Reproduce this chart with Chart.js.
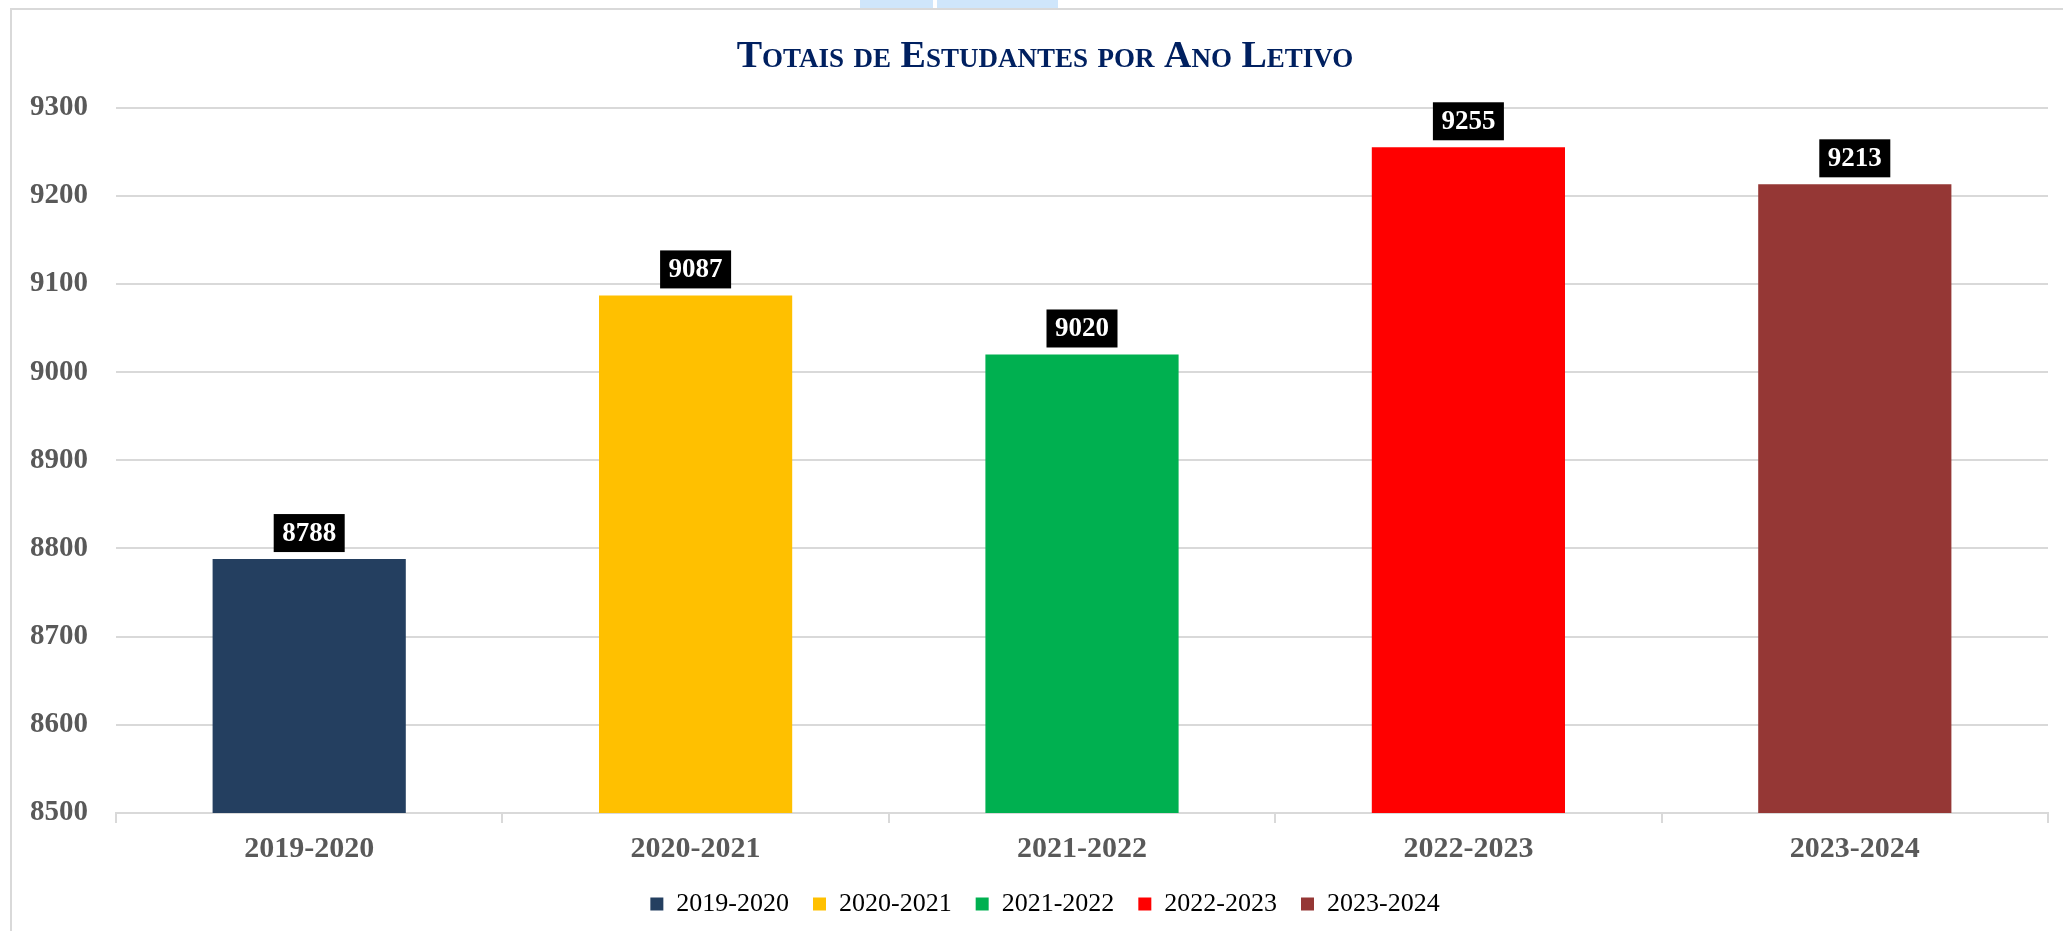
<!DOCTYPE html>
<html>
<head>
<meta charset="utf-8">
<script src="https://cdn.jsdelivr.net/npm/chart.js@4.4.1/dist/chart.umd.min.js"></script>
<style>
  html, body { margin: 0; padding: 0; background: #fff; overflow: hidden; }
  body { width: 2063px; height: 931px; position: relative; }
  #deco { position: absolute; left: 860px; top: 0; width: 198px; height: 8px; background: #cfe6fb; }
  #deco2 { position: absolute; left: 933px; top: 0; width: 4px; height: 8px; background: #fff; }
  #frame { position: absolute; left: 10px; top: 8px; width: 2070px; height: 940px;
           border-left: 2px solid #d9d9d9; border-top: 2px solid #d9d9d9; background: #fff; }
</style>
</head>
<body>
<div id="deco"></div><div id="deco2"></div>
<div id="frame"><canvas id="chart" width="2070" height="940"></canvas></div>
<script>
var anos = ['2019-2020', '2020-2021', '2021-2022', '2022-2023', '2023-2024'];
var totais = [8788, 9087, 9020, 9255, 9213];
var cores = ['#243f60', '#ffc000', '#00b050', '#ff0000', '#953735'];
var eixoY = { min: 8500, max: 9300, passo: 100 };

// caixas pretas com o valor por cima de cada barra
var rotulos = {
  id: 'rotulos',
  afterDatasetsDraw: function(chart) {
    var ctx = chart.ctx;
    var meta = chart.getDatasetMeta(0);
    ctx.save();
    ctx.font = 'bold 27px "Liberation Serif"';
    ctx.textAlign = 'center';
    ctx.textBaseline = 'middle';
    meta.data.forEach(function(bar, i) {
      var txt = String(chart.data.datasets[0].data[i]);
      var w = ctx.measureText(txt).width + 17;
      var h = 38;
      var bottom = bar.y - 7;
      ctx.fillStyle = '#000';
      ctx.fillRect(bar.x - w / 2, bottom - h, w, h);
      ctx.fillStyle = '#fff';
      ctx.fillText(txt, bar.x, bottom - h / 2 + 1);
    });
    ctx.restore();
  }
};

new Chart(document.getElementById('chart'), {
  type: 'bar',
  data: {
    labels: anos,
    datasets: [{
      label: 'Totais',
      data: totais,
      backgroundColor: cores,
      barPercentage: 0.5,
      categoryPercentage: 1
    }]
  },
  options: {
    responsive: false,
    animation: false,
    layout: { padding: { left: 0, right: 4, top: 0, bottom: 23 } },
    plugins: {
      title: {
        display: true,
        text: 'Totais de Estudantes por Ano Letivo',
        color: '#002060',
        font: { family: '"Liberation Serif"', size: 38, weight: 'small-caps bold' },
        padding: { top: 24, bottom: 28 }
      },
      legend: {
        position: 'bottom',
        labels: {
          color: '#595959',
          font: { family: '"Liberation Serif"', size: 26 },
          boxWidth: 13,
          boxHeight: 13,
          padding: 24,
          generateLabels: function(chart) {
            return anos.map(function(a, i) {
              return { text: a, fillStyle: cores[i], strokeStyle: cores[i], lineWidth: 0, index: i };
            });
          }
        }
      },
      tooltip: { enabled: false }
    },
    scales: {
      x: {
        grid: { display: true, drawOnChartArea: false, drawTicks: true, tickLength: 10, color: '#d9d9d9', lineWidth: 2 },
        border: { color: '#d9d9d9', width: 2 },
        ticks: { color: '#595959', font: { family: '"Liberation Serif"', size: 30, weight: 'bold' }, padding: 8 },
        afterFit: function(scale) { scale.height -= 8; }
      },
      y: {
        min: eixoY.min,
        max: eixoY.max,
        ticks: {
          stepSize: eixoY.passo, color: '#595959', padding: 28,
          font: { family: '"Liberation Serif"', size: 29, weight: 'bold' },
          callback: function(v) { return String(v); }
        },
        grid: { color: '#d9d9d9', lineWidth: 2, drawTicks: false },
        border: { display: false },
        afterFit: function(scale) { scale.width -= 10; }
      },
      // eixo vazio à direita, só para deixar margem
      yVazio: {
        position: 'right',
        display: true,
        ticks: { display: false },
        grid: { display: false },
        border: { display: false },
        afterFit: function(scale) { scale.width = 30; }
      }
    }
  },
  plugins: [rotulos]
});
</script>
</body>
</html>
